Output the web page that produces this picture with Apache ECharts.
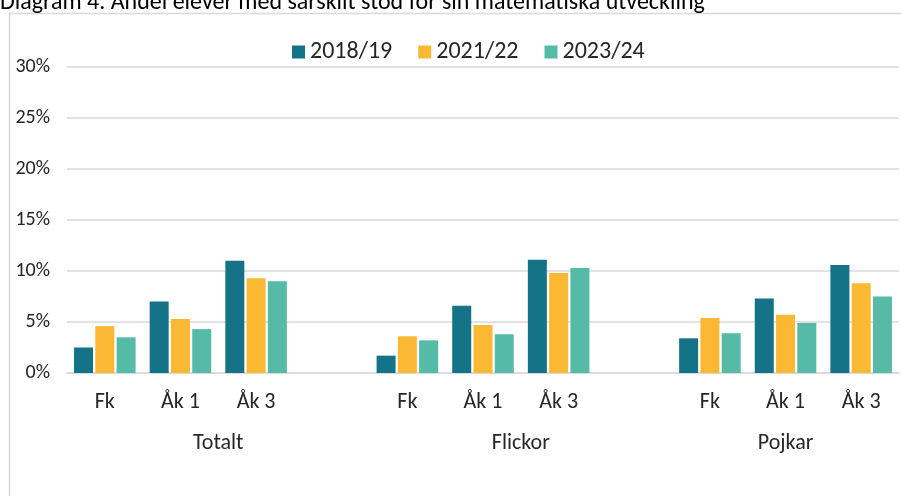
<!DOCTYPE html>
<html>
<head>
<meta charset="utf-8">
<script src="https://cdn.jsdelivr.net/npm/echarts@6/dist/echarts.min.js"></script>
<style>html,body{margin:0;padding:0;background:#fff;}#c{width:901px;height:496px;}</style>
</head>
<body>
<div id="c"></div>
<script>
var titleText = 'Diagram 4. Andel elever med särskilt stöd för sin matematiska utveckling';
var groups = ['Totalt', 'Flickor', 'Pojkar'];
var groupSizes = [4, 4, 3];
var categories = ['Fk', 'Åk 1', 'Åk 3', '', 'Fk', 'Åk 1', 'Åk 3', '', 'Fk', 'Åk 1', 'Åk 3'];
var seriesNames = ['2018/19', '2021/22', '2023/24'];
var v2018 = [2.5, 7.0, 11.0, null, 1.7, 6.6, 11.1, null, 3.4, 7.3, 10.6];
var v2021 = [4.6, 5.3, 9.3, null, 3.6, 4.7, 9.8, null, 5.4, 5.7, 8.8];
var v2023 = [3.5, 4.3, 9.0, null, 3.2, 3.8, 10.3, null, 3.9, 4.9, 7.5];
var yTicks = [0, 5, 10, 15, 20, 25, 30];
var colors = ['#157387', '#fbb832', '#56bba6'];

var FONT = 'Carlito, Lato, sans-serif';
var groupCenters = [];
var start = 0;
groupSizes.forEach(function (s) { groupCenters.push(start + (s - 1) / 2); start += s; });

var chart = echarts.init(document.getElementById('c'));
var values = [v2018, v2021, v2023];
chart.setOption({
  animation: false,
  color: colors,
  textStyle: { fontFamily: FONT },
  graphic: [
    { type: 'rect', shape: { x: 9.5, y: 13.5, width: 1000, height: 1000 }, style: { fill: 'none', stroke: '#d9d9d9', lineWidth: 1.5 } },
    { type: 'text', left: 0, top: -9, style: { text: titleText, font: '24px ' + FONT, fill: '#000' } }
  ],
  legend: {
    top: 35, left: 287,
    itemWidth: 13, itemHeight: 13, itemGap: 26,
    icon: 'rect',
    textStyle: { fontSize: 24, color: '#262626', fontFamily: FONT },
    data: seriesNames
  },
  grid: { left: 67, right: 2, top: 67, bottom: 123, containLabel: false },
  xAxis: [
    {
      type: 'category', data: categories,
      axisLine: { show: true, lineStyle: { color: '#d9d9d9', width: 1.5 } },
      axisTick: { show: false },
      axisLabel: { fontSize: 22, color: '#262626', margin: 18, interval: 0, fontFamily: FONT }
    },
    {
      type: 'value', min: -0.5, max: categories.length - 0.5, position: 'bottom',
      axisLine: { show: false }, axisTick: { show: false }, splitLine: { show: false },
      axisLabel: {
        customValues: groupCenters, fontSize: 22, color: '#262626', margin: 59, fontFamily: FONT,
        formatter: function (v) { var i = groupCenters.indexOf(v); return i >= 0 ? groups[i] : ''; }
      }
    }
  ],
  yAxis: {
    type: 'value', min: yTicks[0], max: yTicks[yTicks.length - 1], interval: 5,
    axisLine: { show: false }, axisTick: { show: false },
    axisLabel: { formatter: '{value}%', fontSize: 20, color: '#262626', margin: 17, fontFamily: FONT },
    splitLine: { lineStyle: { color: '#d9d9d9', width: 1.5 } }
  },
  series: seriesNames.map(function (n, i) {
    return {
      name: n, type: 'bar', xAxisIndex: 0, data: values[i],
      barWidth: 19, barGap: '12%'
    };
  })
});
</script>
</body>
</html>
